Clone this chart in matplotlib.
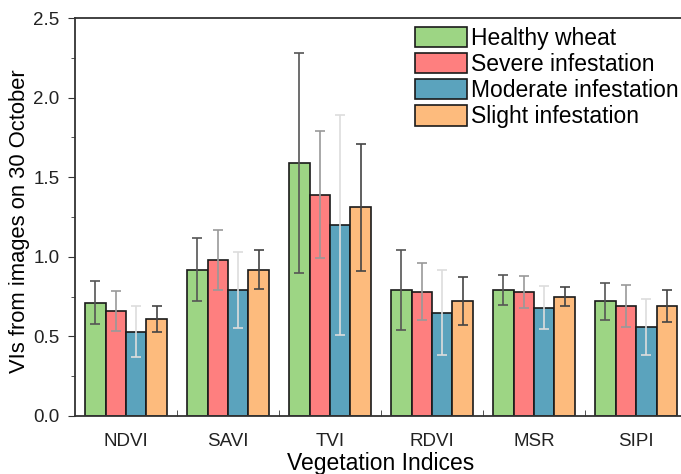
import matplotlib
matplotlib.use("Agg")
import matplotlib.pyplot as plt
import numpy as np
from matplotlib.ticker import MultipleLocator, FixedLocator

plt.rcParams['font.family'] = ['Liberation Sans', 'DejaVu Sans']

indices = ['NDVI', 'SAVI', 'TVI', 'RDVI', 'MSR', 'SIPI']
groups = ['Healthy wheat', 'Severe infestation', 'Moderate infestation', 'Slight infestation']

# mean VI values per group
healthy = [0.71, 0.92, 1.59, 0.79, 0.79, 0.72]
severe = [0.66, 0.98, 1.39, 0.78, 0.78, 0.69]
moderate = [0.53, 0.79, 1.20, 0.65, 0.68, 0.56]
slight = [0.61, 0.92, 1.31, 0.72, 0.75, 0.69]

# standard deviations
healthy_sd = [0.135, 0.20, 0.69, 0.25, 0.095, 0.115]
severe_sd = [0.125, 0.19, 0.40, 0.18, 0.10, 0.13]
moderate_sd = [0.16, 0.24, 0.69, 0.27, 0.134, 0.175]
slight_sd = [0.08, 0.12, 0.40, 0.15, 0.062, 0.10]

means = [healthy, severe, moderate, slight]
sds = [healthy_sd, severe_sd, moderate_sd, slight_sd]
colors = ['#9dd584', '#fe7f7f', '#5ba3bd', '#fdbb7d']
err_colors = ['#555555', '#999999', '#dddddd', '#444444']

fig = plt.figure(figsize=(6.81, 4.74), dpi=100)
ax = fig.add_axes([0.110, 0.1224, 0.899, 0.8396])

x = np.arange(len(indices))
w = 0.2
for i in range(4):
    pos = x + (i - 1.5) * w
    ax.bar(pos, means[i], w, color=colors[i], edgecolor='#1a1a1a',
           linewidth=1.2, label=groups[i], zorder=2)
    ax.errorbar(pos, means[i], yerr=sds[i], fmt='none', ecolor=err_colors[i],
                elinewidth=1.2, capsize=3.8, capthick=1.2, zorder=3)

ax.set_xlim(-0.5, 5.5)
ax.set_ylim(0, 2.5)
ax.set_xticks(x)
ax.set_xticklabels(indices, fontsize=13.5, color='#222222')
ax.tick_params(axis='x', which='major', length=0, pad=12)
ax.xaxis.set_minor_locator(FixedLocator(x[:-1] + 0.5))
ax.tick_params(axis='x', which='minor', direction='in', length=4, color='#333333')
ax.yaxis.set_major_locator(MultipleLocator(0.5))
ax.yaxis.set_minor_locator(MultipleLocator(0.25))
ax.tick_params(axis='y', which='major', direction='out', length=5, labelsize=13.5,
               color='#333333', labelcolor='#222222', pad=6)
ax.tick_params(axis='y', which='minor', direction='out', length=3, color='#333333')
ax.yaxis.set_major_formatter(matplotlib.ticker.FormatStrFormatter('%.1f'))

for s in ax.spines.values():
    s.set_linewidth(1.3)
    s.set_color('#333333')
ax.spines['right'].set_visible(False)

ax.set_xlabel('Vegetation Indices', fontsize=16.5)
ax.xaxis.set_label_coords(0.5, -0.091)
ax.set_ylabel('VIs from images on 30 October', fontsize=15.8)
ax.yaxis.set_label_coords(-0.074, 0.49)

ax.legend(loc='upper left', bbox_to_anchor=(0.556, 0.978), frameon=False,
          fontsize=16.5, handlelength=2.25, handleheight=1.0, handletextpad=0.2,
          labelspacing=0.13, borderaxespad=0, borderpad=0)

fig.savefig('out.png', dpi=100)
